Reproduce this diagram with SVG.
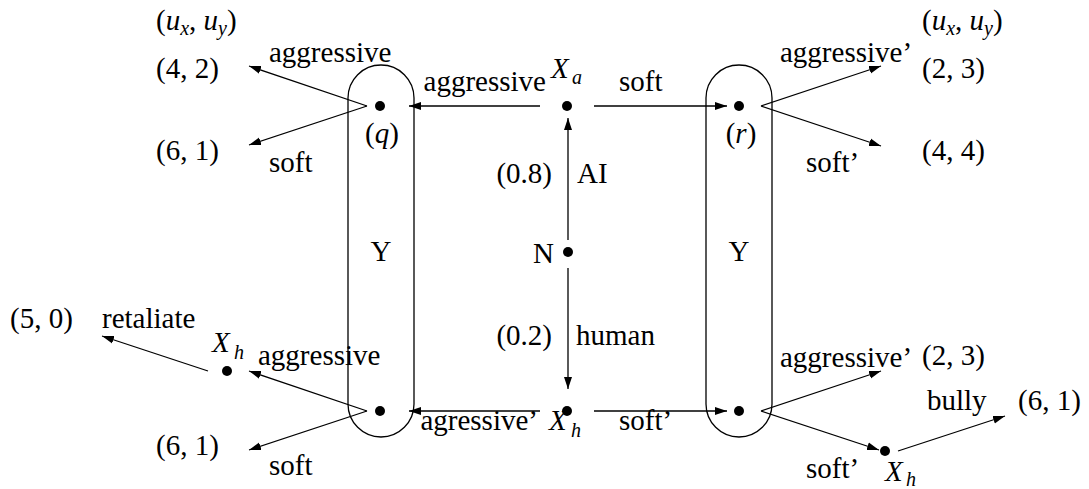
<svg xmlns="http://www.w3.org/2000/svg" width="1089" height="489" viewBox="0 0 1089 489">
<defs>
<style>
text{font-family:"Liberation Serif","Times New Roman",serif;font-size:29px;fill:#000}
.it{font-style:italic}
.sub{font-size:20px;font-style:italic}
.e{text-anchor:end}
.m{text-anchor:middle}
.arr{stroke:#000;stroke-width:1.3;fill:none;marker-end:url(#ah)}
.oval{stroke:#000;stroke-width:1.3;fill:none}
.dot{fill:#000}
</style>
<marker id="ah" markerUnits="userSpaceOnUse" markerWidth="14" markerHeight="10" viewBox="0 0 14 10" refX="12" refY="5" orient="auto">
<path d="M0,1 L12,5 L0,9 Z" fill="#000"/>
</marker>
</defs>

<g id="infoset-left">
<rect class="oval" x="348" y="65" width="66" height="372" rx="33" ry="33"/>
<text class="m" x="381" y="261">Y</text>
</g>
<g id="infoset-right">
<rect class="oval" x="706" y="65" width="66" height="372" rx="33" ry="33"/>
<text class="m" x="739" y="261">Y</text>
</g>

<g id="node-N">
<circle class="dot" cx="568" cy="252" r="5"/>
<text class="e" x="554" y="263">N</text>
</g>
<g id="node-Xa">
<circle class="dot" cx="567" cy="106" r="5"/>
<text class="it" x="551" y="78">X</text><text class="sub" x="572" y="84">a</text>
</g>
<g id="node-Xh-center">
<circle class="dot" cx="567" cy="411" r="5"/>
<text class="it" x="549" y="430">X</text><text class="sub" x="571" y="437">h</text>
</g>
<g id="node-q-top">
<circle class="dot" cx="380" cy="106" r="5"/>
<text class="m" x="382" y="143">(<tspan class="it">q</tspan>)</text>
</g>
<g id="node-r-top">
<circle class="dot" cx="739" cy="106" r="5"/>
<text class="m" x="741" y="143">(<tspan class="it">r</tspan>)</text>
</g>
<g id="node-q-bottom">
<circle class="dot" cx="380" cy="411" r="5"/>
</g>
<g id="node-r-bottom">
<circle class="dot" cx="739" cy="411" r="5"/>
</g>
<g id="node-Xh-left">
<circle class="dot" cx="227" cy="371" r="5"/>
<text class="it" x="212" y="352">X</text><text class="sub" x="234" y="359">h</text>
</g>
<g id="node-Xh-right">
<circle class="dot" cx="885" cy="451" r="5"/>
<text class="it" x="885" y="481">X</text><text class="sub" x="906" y="486">h</text>
</g>

<g id="payoffs">
<text x="156" y="30">(<tspan class="it">u</tspan><tspan class="sub" dy="5">x</tspan><tspan dy="-5">, </tspan><tspan class="it">u</tspan><tspan class="sub" dy="5">y</tspan><tspan dy="-5">)</tspan></text>
<text x="156" y="78">(4, 2)</text>
<text x="156" y="160">(6, 1)</text>
<text x="922" y="30">(<tspan class="it">u</tspan><tspan class="sub" dy="5">x</tspan><tspan dy="-5">, </tspan><tspan class="it">u</tspan><tspan class="sub" dy="5">y</tspan><tspan dy="-5">)</tspan></text>
<text x="922" y="78">(2, 3)</text>
<text x="922" y="160">(4, 4)</text>
<text x="10" y="328">(5, 0)</text>
<text x="156" y="455">(6, 1)</text>
<text x="922" y="365">(2, 3)</text>
<text x="1018" y="410">(6, 1)</text>
</g>

<g id="connectors">
<line class="arr" x1="540" y1="106" x2="409" y2="106"/>
<line class="arr" x1="594" y1="106" x2="727" y2="106"/>
<line class="arr" x1="568" y1="240" x2="568" y2="118"/>
<line class="arr" x1="568" y1="268" x2="568" y2="389"/>
<line class="arr" x1="540" y1="411" x2="409" y2="411"/>
<line class="arr" x1="594" y1="411" x2="727" y2="411"/>
<line class="arr" x1="367" y1="106" x2="249" y2="66"/>
<line class="arr" x1="367" y1="106" x2="249" y2="145"/>
<line class="arr" x1="761" y1="106" x2="881" y2="66"/>
<line class="arr" x1="761" y1="106" x2="881" y2="146"/>
<line class="arr" x1="367" y1="411" x2="249" y2="371"/>
<line class="arr" x1="367" y1="411" x2="249" y2="450"/>
<line class="arr" x1="208" y1="371" x2="102" y2="336"/>
<line class="arr" x1="761" y1="411" x2="881" y2="371"/>
<line class="arr" x1="761" y1="411" x2="879" y2="450"/>
<line class="arr" x1="898" y1="451" x2="1005" y2="416"/>
<text x="269" y="62">aggressive</text>
<text x="269" y="172">soft</text>
<text class="e" x="546" y="91">aggressive</text>
<text x="619" y="91">soft</text>
<text x="780" y="62">aggressive’</text>
<text x="806" y="172">soft’</text>
<text class="e" x="552" y="183">(0.8)</text>
<text x="577" y="183">AI</text>
<text class="e" x="552" y="345">(0.2)</text>
<text x="576" y="345">human</text>
<text class="e" x="538" y="430">agressive’</text>
<text x="619" y="430">soft’</text>
<text x="102" y="328">retaliate</text>
<text x="258" y="365">aggressive</text>
<text x="269" y="475">soft</text>
<text x="780" y="367">aggressive’</text>
<text x="927" y="410">bully</text>
<text x="806" y="478">soft’</text>
</g>
</svg>
